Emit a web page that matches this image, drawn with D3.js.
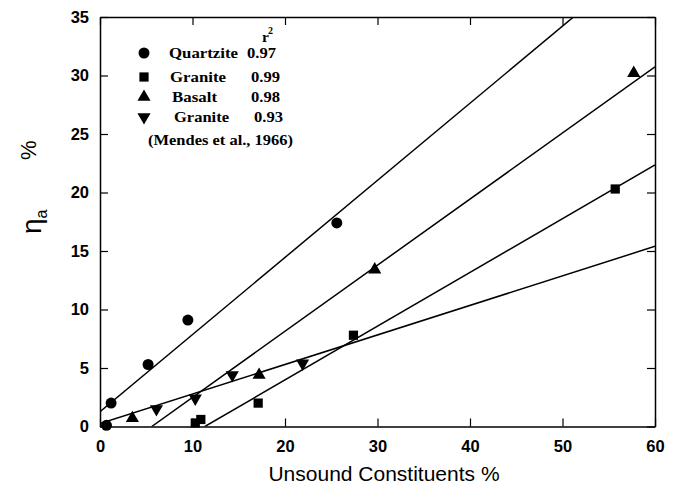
<!DOCTYPE html>
<html>
<head>
<meta charset="utf-8">
<script src="https://cdn.jsdelivr.net/npm/d3@7"></script>
<style>
  body { margin: 0; background: #fff; }
  svg { display: block; }
</style>
</head>
<body>
<div id="chart"></div>
<script>
// values
var quartziteX = [0.7, 1.2, 5.2, 9.5, 25.6];
var quartziteY = [0.1, 2.0, 5.3, 9.1, 17.4];
var graniteSqX = [10.3, 10.9, 17.1, 27.4, 55.7];
var graniteSqY = [0.3, 0.6, 2.0, 7.8, 20.3];
var basaltX = [3.5, 17.2, 29.7, 57.7];
var basaltY = [0.7, 4.4, 13.4, 30.2];
var graniteTriX = [6.1, 10.3, 14.3, 21.9];
var graniteTriY = [1.5, 2.4, 4.4, 5.4];

// fitted lines (slope, intercept) as drawn
var seriesNames = ["Quartzite", "Granite", "Basalt", "Granite"];
var seriesR2 = ["0.97", "0.99", "0.98", "0.93"];
var fitSlope = [0.659, 0.4595, 0.565, 0.2525];
var fitIntercept = [1.27, -5.21, -3.16, 0.25];

var xTicks = [0, 10, 20, 30, 40, 50, 60];
var yTicks = [0, 5, 10, 15, 20, 25, 30, 35];

(function() {
    var d3 = window.d3;
    var W = 677, H = 495;
    var margins = {left: 100, top: 17, right: 22, bottom: 68.5};
    var width = W - margins.left - margins.right;
    var height = H - margins.top - margins.bottom;

    var svg = d3.select("#chart").append("svg:svg")
        .attr("width", W)
        .attr("height", H);

    var g = svg.append("svg:g")
        .attr("transform", "translate(" + margins.left + "," + margins.top + ")");

    var x = d3.scaleLinear().domain([0, 60]).range([0, width]);
    var y = d3.scaleLinear().domain([0, 35]).range([height, 0]);

    g.append("clipPath").attr("id", "plotClip")
        .append("rect").attr("width", width).attr("height", height);

    //axes, ticks point inwards on all four sides
    var tickLen = 8;
    var axisStyle = function(sel) {
        sel.selectAll("path").attr("stroke", "#000").attr("stroke-width", 1.5);
        sel.selectAll("line").attr("stroke", "#000").attr("stroke-width", 1.2);
    };
    var bottom = g.append("g").attr("transform", "translate(0," + height + ")")
        .call(d3.axisBottom(x).tickValues(xTicks).tickSizeInner(-tickLen).tickSizeOuter(0).tickPadding(11));
    var left = g.append("g")
        .call(d3.axisLeft(y).tickValues(yTicks).tickSizeInner(-tickLen).tickSizeOuter(0).tickPadding(11));
    var top = g.append("g")
        .call(d3.axisTop(x).tickValues(xTicks).tickSizeInner(-tickLen).tickSizeOuter(0).tickFormat(""));
    var right = g.append("g").attr("transform", "translate(" + width + ",0)")
        .call(d3.axisRight(y).tickValues(yTicks).tickSizeInner(-tickLen).tickSizeOuter(0).tickFormat(""));
    [bottom, left, top, right].forEach(axisStyle);

    [bottom, left].forEach(function(a) {
        a.selectAll("text")
            .attr("fill", "#000")
            .style("font-family", "'Liberation Sans', Arial, sans-serif")
            .style("font-weight", "bold")
            .style("font-size", "16.5px");
    });
    bottom.selectAll("text").attr("dy", "0.85em");

    //fit lines
    var lines = g.append("g").attr("clip-path", "url(#plotClip)");
    fitSlope.forEach(function(s, i) {
        var b = fitIntercept[i];
        var x0 = Math.max(0, -b / s);
        lines.append("line")
            .attr("x1", x(x0)).attr("y1", y(b + s * x0))
            .attr("x2", x(60)).attr("y2", y(b + s * 60))
            .attr("stroke", "#000")
            .attr("stroke-width", 1.5);
    });

    //markers
    var shapes = [
        d3.symbol().type(d3.symbolCircle).size(95),
        d3.symbol().type(d3.symbolSquare).size(85),
        d3.symbol().type(d3.symbolTriangle).size(75),
        d3.symbol().type(d3.symbolTriangle).size(75)
    ];
    var rotations = [0, 0, 0, 180];
    var series = [
        [quartziteX, quartziteY],
        [graniteSqX, graniteSqY],
        [basaltX, basaltY],
        [graniteTriX, graniteTriY]
    ];
    var pts = g.append("g");
    series.forEach(function(sr, i) {
        pts.selectAll(".s" + i)
            .data(sr[0])
            .enter()
            .append("path")
            .attr("class", "s" + i)
            .attr("d", shapes[i])
            .attr("fill", "#000")
            .attr("transform", function(d, j) {
                return "translate(" + x(d) + "," + y(sr[1][j]) + ") rotate(" + rotations[i] + ")";
            });
    });

    //legend
    var legend = svg.append("g")
        .style("font-family", "'Liberation Serif', 'Times New Roman', serif")
        .style("font-weight", "bold")
        .style("font-size", "15.5px");
    var rowY = [53, 77, 97, 117];
    var nameX = [169, 170, 172, 174];
    var nameW = [69, 56, 45, 55];
    var r2X = [247, 251, 251, 254];
    legend.append("text").attr("x", 262).attr("y", 42).text("r");
    legend.append("text").attr("x", 268).attr("y", 34).style("font-size", "10px").text("2");
    seriesNames.forEach(function(n, i) {
        legend.append("path")
            .attr("d", shapes[i])
            .attr("fill", "#000")
            .attr("transform", "translate(144," + rowY[i] + ") rotate(" + rotations[i] + ")");
        legend.append("text").attr("x", nameX[i]).attr("y", rowY[i] + 5)
            .attr("textLength", nameW[i]).attr("lengthAdjust", "spacingAndGlyphs").text(n);
        legend.append("text").attr("x", r2X[i]).attr("y", rowY[i] + 5)
            .attr("textLength", 29).attr("lengthAdjust", "spacingAndGlyphs").text(seriesR2[i]);
    });
    legend.append("text").attr("x", 148).attr("y", 145)
        .attr("textLength", 145).attr("lengthAdjust", "spacingAndGlyphs")
        .text("(Mendes et al., 1966)");

    //axis titles
    svg.append("text")
        .attr("x", 384).attr("y", 481)
        .attr("text-anchor", "middle")
        .style("font-family", "'Liberation Sans', Arial, sans-serif")
        .style("font-size", "21px")
        .text("Unsound Constituents %");

    var yl = svg.append("text")
        .attr("transform", "translate(41,234) rotate(-90)")
        .style("font-family", "'Liberation Sans', Arial, sans-serif");
    yl.append("tspan").style("font-size", "28px").text("\u03B7");
    yl.append("tspan").style("font-size", "16px").attr("dy", 6).text("a");
    svg.append("text")
        .attr("transform", "translate(36,160) rotate(-90)")
        .style("font-family", "'Liberation Sans', Arial, sans-serif")
        .style("font-size", "22px")
        .text("%");
}());
</script>
</body>
</html>
